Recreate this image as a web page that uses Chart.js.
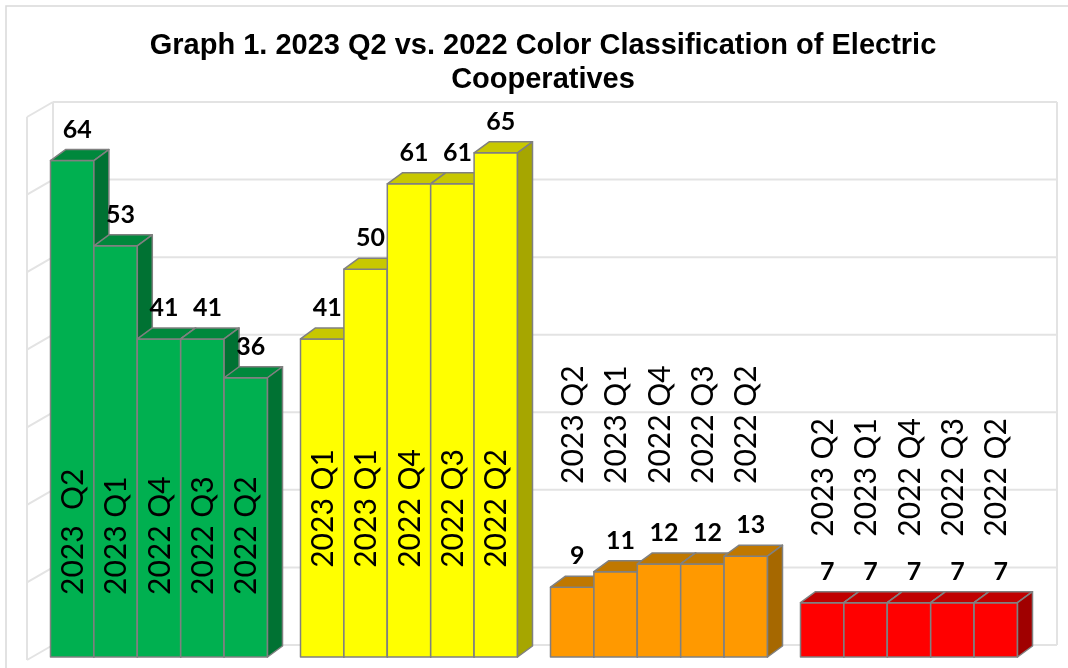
<!DOCTYPE html>
<html>
<head>
<meta charset="utf-8">
<script src="https://cdn.jsdelivr.net/npm/chart.js@4/dist/chart.umd.min.js"></script>
<style>
  html, body { margin: 0; padding: 0; background: #ffffff; }
  #wrap { width: 1068px; height: 668px; position: relative; }
</style>
</head>
<body>
<div id="wrap"><canvas id="c" width="1068" height="668"></canvas></div>
<script>
// ---------- DATA ----------
const classes = ["Green", "Yellow", "Orange", "Red"];
const quarters = ["2023 Q2", "2023 Q1", "2022 Q4", "2022 Q3", "2022 Q2"];
const v2023Q2 = [64, 41, 9, 7];
const v2023Q1 = [53, 50, 11, 7];
const v2022Q4 = [41, 61, 12, 7];
const v2022Q3 = [41, 61, 12, 7];
const v2022Q2 = [36, 65, 13, 7];
const greenBarLabels  = ["2023  Q2", "2023 Q1", "2022 Q4", "2022 Q3", "2022 Q2"];
const yellowBarLabels = ["2023 Q1", "2023 Q1", "2022 Q4", "2022 Q3", "2022 Q2"];
const orangeBarLabels = ["2023 Q2", "2023 Q1", "2022 Q4", "2022 Q3", "2022 Q2"];
const redBarLabels    = ["2023 Q2", "2023 Q1", "2022 Q4", "2022 Q3", "2022 Q2"];
const gridValues = [0, 10, 20, 30, 40, 50, 60, 70];
const titleLines = ["Graph 1. 2023 Q2 vs. 2022 Color Classification of Electric", "Cooperatives"];

// ---------- STYLE ----------
const seriesValues = [v2023Q2, v2023Q1, v2022Q4, v2022Q3, v2022Q2];
const groupBarLabels = [greenBarLabels, yellowBarLabels, orangeBarLabels, redBarLabels];
const frontColors = ["#00B050", "#FFFF00", "#FF9900", "#FF0000"];
const topColors   = ["#00883C", "#C8C800", "#C07800", "#C00000"];
const sideColors  = ["#007233", "#A6A600", "#A66800", "#A00000"];
const edgeColor = "#808080";
const DX = 15, DY = 11;           // bar depth projection
const WALL_DX = 19, WALL_DY = 12; // back wall offset
// value on y-scale where the rotated category labels start (per group)
const labelStartValue = [8.0, 11.5, 22.3, 15.5];

const threeD = {
  id: 'threeD',
  beforeDraw(chart) {
    const ctx = chart.ctx;
    ctx.save();
    ctx.fillStyle = '#ffffff';
    ctx.fillRect(0, 0, chart.width, chart.height);
    ctx.strokeStyle = '#D9D9D9';
    ctx.lineWidth = 1.5;
    ctx.strokeRect(6, 6, chart.width + 10, chart.height + 10);
    // title
    ctx.fillStyle = '#000000';
    ctx.font = 'bold 29px "Liberation Sans"';
    ctx.textAlign = 'center';
    ctx.textBaseline = 'middle';
    titleLines.forEach((t, k) => ctx.fillText(t, 543, 46 + k * 34));
    ctx.restore();
  },
  beforeDatasetsDraw(chart) {
    const ctx = chart.ctx, a = chart.chartArea, ys = chart.scales.y;
    const bl = a.left + WALL_DX, br = a.right + WALL_DX + 4;
    const fl = a.left - 7;
    ctx.save();
    ctx.strokeStyle = '#E3E3E3';
    ctx.lineWidth = 2;
    const yTopBack = ys.getPixelForValue(70) - WALL_DY;
    const yBotBack = ys.getPixelForValue(0) - WALL_DY;
    gridValues.forEach(v => {
      const yb = ys.getPixelForValue(v) - WALL_DY;
      ctx.beginPath(); ctx.moveTo(bl, yb); ctx.lineTo(br, yb); ctx.stroke();
      ctx.beginPath(); ctx.moveTo(fl, yb + 15); ctx.lineTo(bl, yb); ctx.stroke();
    });
    ctx.beginPath(); ctx.moveTo(bl, yTopBack); ctx.lineTo(bl, yBotBack); ctx.stroke();
    ctx.beginPath(); ctx.moveTo(br, yTopBack); ctx.lineTo(br, yBotBack); ctx.stroke();
    ctx.beginPath(); ctx.moveTo(fl, yTopBack + 15); ctx.lineTo(fl, yBotBack + 15); ctx.stroke();
    ctx.restore();
  },
  afterDatasetsDraw(chart) {
    const ctx = chart.ctx, ys = chart.scales.y;
    const n = chart.data.datasets.length;
    ctx.save();
    ctx.strokeStyle = edgeColor;
    ctx.lineWidth = 1.5;
    ctx.lineJoin = 'round';
    // paint each bar as a 3D block, left to right within every group
    for (let i = 0; i < n; i++) {
      const meta = chart.getDatasetMeta(i);
      meta.data.forEach((bar, j) => {
        const p = bar.getProps(['x', 'y', 'base', 'width'], true);
        const l = p.x - p.width / 2, r = p.x + p.width / 2, t = p.y, b = p.base;
        ctx.fillStyle = frontColors[j];
        ctx.fillRect(l, t, r - l, b - t);
        ctx.strokeRect(l, t, r - l, b - t);
        ctx.beginPath();
        ctx.moveTo(l, t); ctx.lineTo(l + DX, t - DY); ctx.lineTo(r + DX, t - DY); ctx.lineTo(r, t); ctx.closePath();
        ctx.fillStyle = topColors[j]; ctx.fill(); ctx.stroke();
        ctx.beginPath();
        ctx.moveTo(r, t); ctx.lineTo(r + DX, t - DY); ctx.lineTo(r + DX, b - DY); ctx.lineTo(r, b); ctx.closePath();
        ctx.fillStyle = sideColors[j]; ctx.fill(); ctx.stroke();
      });
    }
    // labels
    ctx.fillStyle = '#000000';
    for (let i = 0; i < n; i++) {
      const ds = chart.data.datasets[i];
      const meta = chart.getDatasetMeta(i);
      meta.data.forEach((bar, j) => {
        const p = bar.getProps(['x', 'y'], true);
        ctx.font = 'bold 25px Lato';
        ctx.textAlign = 'center';
        ctx.textBaseline = 'middle';
        ctx.fillText(String(ds.data[j]), p.x + 5, p.y - 31);
        ctx.save();
        ctx.font = '30px Lato';
        ctx.translate(p.x, ys.getPixelForValue(labelStartValue[j]));
        ctx.rotate(-Math.PI / 2);
        ctx.textAlign = 'left';
        ctx.textBaseline = 'middle';
        ctx.fillText(groupBarLabels[j][i], 0, 1);
        ctx.restore();
      });
    }
    ctx.restore();
  }
};

const datasets = quarters.map((q, i) => ({
  label: q,
  data: seriesValues[i],
  backgroundColor: frontColors,
  borderWidth: 0,
  categoryPercentage: 0.868,
  barPercentage: 1.0
}));

new Chart(document.getElementById('c'), {
  type: 'bar',
  data: { labels: classes, datasets },
  options: {
    responsive: false,
    animation: false,
    devicePixelRatio: 1,
    layout: { padding: { left: 34, right: 34, top: 114, bottom: 11 } },
    plugins: {
      legend: { display: false },
      tooltip: { enabled: false },
      title: { display: false }
    },
    scales: {
      x: { display: false },
      y: { display: false, min: 0, max: 70, ticks: { stepSize: 10 } }
    }
  },
  plugins: [threeD]
});
</script>
</body>
</html>
